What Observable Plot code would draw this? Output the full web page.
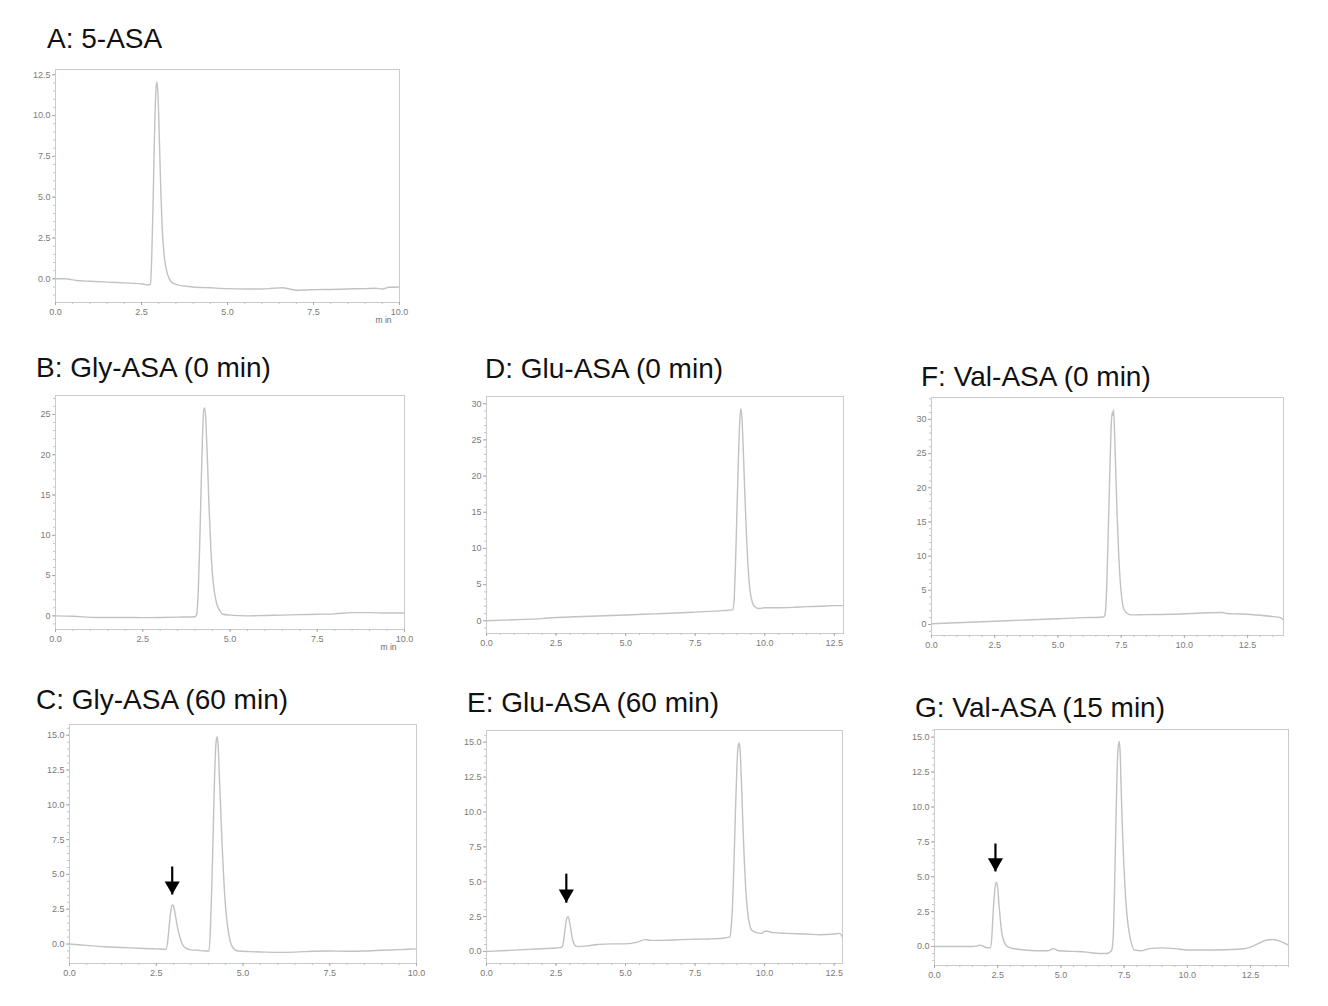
<!DOCTYPE html>
<html><head><meta charset="utf-8">
<script src="https://cdn.jsdelivr.net/npm/d3@7"></script>
<script src="https://cdn.jsdelivr.net/npm/@observablehq/plot@0.6"></script>
<style>
body{margin:0;background:#fff;}
#page{position:relative;width:1328px;height:1006px;overflow:hidden;background:#fff;font-family:"Liberation Sans",Arial,sans-serif;}
.title{position:absolute;font-size:28px;line-height:28px;color:#111;white-space:nowrap;}
.panel{position:absolute;}
</style></head><body><div id="page"></div>
<script>
// ---- Tick labels ----
const xTicks10 = [0, 2.5, 5, 7.5, 10];
const xTicks125 = [0, 2.5, 5, 7.5, 10, 12.5];
const yTicksA = [0, 2.5, 5, 7.5, 10, 12.5];
const yTicks25 = [0, 5, 10, 15, 20, 25];
const yTicks30 = [0, 5, 10, 15, 20, 25, 30];
const yTicks15 = [0, 2.5, 5, 7.5, 10, 12.5, 15];

// ---- Titles ----
const titles = ["A: 5-ASA", "B: Gly-ASA (0 min)", "C: Gly-ASA (60 min)", "D: Glu-ASA (0 min)", "E: Glu-ASA (60 min)", "F: Val-ASA (0 min)", "G: Val-ASA (15 min)"];

// ---- Series (retention time, min / signal) ----
const timeA = [0, 0.3, 0.45, 0.6, 1.0, 1.5, 2.0, 2.5, 2.7, 2.76, 2.8, 2.84, 2.88, 2.92, 2.95, 2.98, 3.02, 3.06, 3.1, 3.15, 3.2, 3.27, 3.35, 3.45, 3.6, 3.8, 4.0, 4.5, 5.0, 5.5, 6.0, 6.3, 6.6, 6.8, 7.0, 7.3, 7.6, 8.0, 8.5, 9.0, 9.3, 9.5, 9.7, 10.0];
const signalA = [0.0, 0.0, -0.05, -0.1, -0.15, -0.2, -0.25, -0.3, -0.38, -0.3, 1.5, 5.0, 9.0, 11.6, 12.05, 11.2, 8.5, 5.5, 3.2, 1.6, 0.8, 0.2, -0.15, -0.3, -0.4, -0.45, -0.5, -0.55, -0.6, -0.62, -0.62, -0.58, -0.55, -0.62, -0.7, -0.68, -0.66, -0.65, -0.62, -0.6, -0.58, -0.62, -0.52, -0.5];

const timeB = [0, 0.5, 1.2, 2.0, 2.5, 3.0, 3.5, 4.0, 4.05, 4.09, 4.13, 4.17, 4.21, 4.25, 4.28, 4.32, 4.36, 4.4, 4.45, 4.5, 4.56, 4.62, 4.7, 4.8, 5.0, 5.5, 6.0, 6.5, 7.0, 7.5, 8.0, 8.5, 9.0, 9.5, 10.0];
const signalB = [0.0, -0.05, -0.2, -0.2, -0.22, -0.2, -0.15, -0.1, 0.3, 3.0, 8.5, 15.5, 22.0, 25.6, 25.8, 23.0, 18.5, 13.5, 8.5, 5.0, 2.8, 1.5, 0.7, 0.2, 0.1, 0.0, 0.05, 0.1, 0.15, 0.2, 0.25, 0.4, 0.4, 0.35, 0.35];

const timeC = [0, 0.5, 1.0, 1.5, 2.0, 2.5, 2.78, 2.83, 2.87, 2.91, 2.95, 2.98, 3.02, 3.07, 3.12, 3.18, 3.25, 3.35, 3.5, 3.7, 3.9, 4.02, 4.06, 4.1, 4.14, 4.18, 4.22, 4.25, 4.28, 4.32, 4.36, 4.4, 4.45, 4.5, 4.56, 4.63, 4.72, 4.85, 5.2, 5.6, 6.0, 6.5, 7.0, 7.5, 8.0, 8.5, 9.0, 9.5, 10.0];
const signalC = [0.0, -0.1, -0.2, -0.25, -0.3, -0.35, -0.38, 0.2, 1.2, 2.2, 2.75, 2.8, 2.5, 1.8, 1.1, 0.5, 0.0, -0.3, -0.42, -0.45, -0.5, -0.5, 1.0, 4.0, 8.0, 12.0, 14.4, 14.9, 14.4, 12.0, 9.5, 7.0, 4.5, 2.6, 1.2, 0.2, -0.3, -0.5, -0.55, -0.58, -0.6, -0.58, -0.52, -0.5, -0.52, -0.5, -0.45, -0.4, -0.35];

const timeD = [0, 1.0, 2.0, 2.5, 3.5, 5.0, 6.0, 7.0, 7.5, 8.5, 8.85, 8.9, 8.95, 9.0, 9.05, 9.1, 9.14, 9.18, 9.23, 9.28, 9.33, 9.4, 9.47, 9.55, 9.65, 9.8, 10.0, 10.5, 11.0, 11.5, 12.0, 12.5, 12.83];
const signalD = [0.0, 0.15, 0.3, 0.45, 0.6, 0.8, 0.95, 1.1, 1.2, 1.4, 1.5, 3.0, 8.0, 15.0, 22.0, 27.5, 29.3, 28.0, 23.5, 18.0, 13.0, 7.5, 4.2, 2.6, 1.9, 1.7, 1.8, 1.8, 1.85, 1.95, 2.0, 2.1, 2.1];

const timeE = [0, 0.5, 1.0, 1.5, 2.0, 2.5, 2.7, 2.75, 2.8, 2.85, 2.9, 2.94, 2.98, 3.03, 3.08, 3.14, 3.2, 3.3, 3.6, 4.0, 4.5, 5.0, 5.4, 5.7, 5.9, 6.2, 7.0, 7.5, 8.0, 8.5, 8.75, 8.8, 8.85, 8.9, 8.95, 9.0, 9.04, 9.08, 9.12, 9.17, 9.22, 9.27, 9.32, 9.38, 9.45, 9.55, 9.7, 9.9, 10.0, 10.1, 10.3, 10.8, 11.5, 12.0, 12.5, 12.7, 12.8];
const signalE = [0.0, 0.05, 0.1, 0.15, 0.2, 0.25, 0.3, 0.5, 1.2, 2.0, 2.45, 2.5, 2.2, 1.6, 1.0, 0.6, 0.4, 0.35, 0.4, 0.5, 0.55, 0.55, 0.65, 0.85, 0.8, 0.8, 0.85, 0.88, 0.9, 0.95, 1.05, 1.8, 3.5, 6.5, 10.0, 13.0, 14.6, 14.95, 14.4, 12.0, 9.0, 6.5, 4.5, 3.0, 2.0, 1.5, 1.35, 1.3, 1.45, 1.45, 1.35, 1.3, 1.25, 1.2, 1.25, 1.3, 1.0];

const timeF = [0, 1.0, 2.0, 3.0, 4.0, 5.0, 6.0, 6.8, 6.85, 6.9, 6.95, 7.0, 7.05, 7.1, 7.14, 7.17, 7.2, 7.24, 7.29, 7.34, 7.4, 7.46, 7.52, 7.6, 7.75, 7.9, 8.5, 9.5, 10.5, 11.5, 11.7, 12.0, 12.5, 13.0, 13.5, 13.8, 13.92];
const signalF = [0.1, 0.25, 0.4, 0.55, 0.7, 0.85, 1.0, 1.1, 1.3, 3.0, 8.0, 15.0, 22.0, 28.5, 31.0, 30.6, 31.4, 28.0, 22.0, 16.0, 10.5, 6.5, 4.0, 2.3, 1.6, 1.4, 1.45, 1.5, 1.65, 1.75, 1.6, 1.55, 1.5, 1.35, 1.15, 1.0, 0.6];

const timeG = [0, 0.5, 1.0, 1.5, 1.7, 1.8, 2.0, 2.2, 2.26, 2.3, 2.35, 2.4, 2.45, 2.5, 2.55, 2.6, 2.66, 2.74, 2.85, 3.0, 3.3, 4.0, 4.5, 4.7, 4.9, 5.5, 6.0, 6.5, 6.8, 7.0, 7.07, 7.12, 7.17, 7.22, 7.26, 7.3, 7.34, 7.38, 7.43, 7.48, 7.54, 7.6, 7.68, 7.78, 7.9, 8.2, 8.5, 9.0, 9.5, 10.0, 11.0, 12.0, 12.4, 12.8, 13.1, 13.4, 13.7, 14.0];
const signalG = [0.0, 0.0, 0.0, 0.0, 0.05, 0.1, -0.05, -0.1, 0.5, 1.8, 3.3, 4.3, 4.6, 4.2, 3.0, 2.0, 1.0, 0.4, 0.05, -0.1, -0.2, -0.3, -0.3, -0.15, -0.3, -0.35, -0.4, -0.5, -0.5, -0.3, 0.8, 4.0, 8.5, 12.5, 14.2, 14.7, 14.0, 11.5, 8.5, 6.2, 4.0, 2.5, 1.2, 0.3, -0.25, -0.3, -0.15, -0.1, -0.15, -0.25, -0.25, -0.2, -0.1, 0.2, 0.45, 0.5, 0.35, 0.1];

// ---- Arrows marking the 5-ASA peak (panels C, E, G) ----
const arrowTime = [2.96, 2.87, 2.41];
const arrowFrom = [5.57, 5.58, 7.38];
const arrowTo = [3.56, 3.5, 5.38];

// ---- Layout (page pixels of each frame, title baseline) ----
const layout = [
  {title: titles[0], t: timeA, v: signalA, tp: [47, 48],  fr: [55, 69, 399, 302],  xd: [0, 10],    yd: [-1.45, 12.82], xt: xTicks10,  yt: yTicksA, yf: ".1f", ym: 0.5, unit: true,  arrow: -1},
  {title: titles[1], t: timeB, v: signalB, tp: [36, 377], fr: [55, 395, 404, 629], xd: [0, 10],    yd: [-1.69, 27.35], xt: xTicks10,  yt: yTicks25, yf: "d",  ym: 1,   unit: true,  arrow: -1},
  {title: titles[2], t: timeC, v: signalC, tp: [36, 709], fr: [69, 724, 416, 963], xd: [0, 10],    yd: [-1.40, 15.77], xt: xTicks10,  yt: yTicks15, yf: ".1f", ym: 0.5, unit: false, arrow: 0},
  {title: titles[3], t: timeD, v: signalD, tp: [485, 378], fr: [486, 396, 843, 633], xd: [0, 12.83], yd: [-1.76, 31.0], xt: xTicks125, yt: yTicks30, yf: "d",  ym: 1,   unit: false, arrow: -1},
  {title: titles[4], t: timeE, v: signalE, tp: [467, 712], fr: [486, 730, 842, 963], xd: [0, 12.8],  yd: [-0.86, 15.84], xt: xTicks125, yt: yTicks15, yf: ".1f", ym: 0.5, unit: false, arrow: 1},
  {title: titles[5], t: timeF, v: signalF, tp: [921, 386], fr: [931, 397, 1283, 635], xd: [0, 13.92], yd: [-1.61, 33.2], xt: xTicks125, yt: yTicks30, yf: "d",  ym: 1,   unit: false, arrow: -1},
  {title: titles[6], t: timeG, v: signalG, tp: [915, 717], fr: [934, 729, 1288, 965], xd: [0, 14.0],  yd: [-1.36, 15.55], xt: xTicks125, yt: yTicks15, yf: ".1f", ym: 0.5, unit: false, arrow: 2}
];

const page = document.getElementById("page");
const mL = 34, mR = 16, mT = 6, mB = 32;
const headR = 5.6;
const headOffset = 2 * Math.sqrt(Math.PI * headR * headR / (3 * Math.sqrt(3)));

for (const p of layout) {
  const title = document.createElement("div");
  title.className = "title";
  title.textContent = p.title;
  title.style.left = p.tp[0] + "px";
  title.style.top = (p.tp[1] - 23) + "px";
  page.appendChild(title);

  const [L, T, R, B] = p.fr;
  const rows = p.t.map((t, i) => ({t, v: p.v[i]}));
  const minorY = d3.range(Math.ceil(p.yd[0] / p.ym) * p.ym, p.yd[1], p.ym);
  const minorX = d3.range(0, p.xd[1] + 1e-9, 0.5);
  const marks = [
    Plot.frame({stroke: "#cbcbcb"}),
    Plot.axisY(minorY, {tickSize: 2, tickFormat: () => "", label: null, stroke: "#c4c4c4"}),
    Plot.axisY(p.yt, {tickSize: 3, tickPadding: 2, tickFormat: d3.format(p.yf), label: null, stroke: "#aaa", fill: "#7a7a7a"}),
    Plot.axisX(minorX, {tickSize: 2, tickFormat: () => "", label: null, stroke: "#c4c4c4"}),
    Plot.axisX(p.xt, {tickSize: 3, tickPadding: 3, tickFormat: d3.format(".1f"), label: null, stroke: "#aaa", fill: "#7a7a7a"}),
    Plot.line(rows, {x: "t", y: "v", stroke: "#c2c2c2", strokeWidth: 1.4, curve: "monotone-x", clip: true})
  ];
  if (p.unit) {
    marks.push(Plot.text(["m in"], {text: d => d, frameAnchor: "bottom-right", dx: -8, dy: 20, fontSize: 8.5, fill: "#6a6a6a"}));
  }
  if (p.arrow >= 0) {
    const a = p.arrow;
    const arr = [{x: arrowTime[a], y1: arrowFrom[a], y2: arrowTo[a]}];
    marks.push(Plot.link(arr, {x1: "x", x2: "x", y1: "y1", y2: "y2", stroke: "#000", strokeWidth: 2.2}));
    marks.push(Plot.dot(arr, {x: "x", y: "y2", symbol: "triangle", rotate: 180, r: headR, fill: "#000", stroke: "none", dy: -headOffset}));
  }
  const svg = Plot.plot({
    width: R - L + mL + mR,
    height: B - T + mT + mB,
    marginLeft: mL, marginRight: mR, marginTop: mT, marginBottom: mB,
    x: {domain: p.xd, label: null},
    y: {domain: p.yd, label: null},
    style: {fontFamily: "'Liberation Sans', Arial, sans-serif", fontSize: "9px", color: "#888", background: "transparent", overflow: "visible"},
    marks
  });
  const wrap = document.createElement("div");
  wrap.className = "panel";
  wrap.style.left = (L - mL) + "px";
  wrap.style.top = (T - mT) + "px";
  wrap.appendChild(svg);
  page.appendChild(wrap);
}
</script>
</body></html>
